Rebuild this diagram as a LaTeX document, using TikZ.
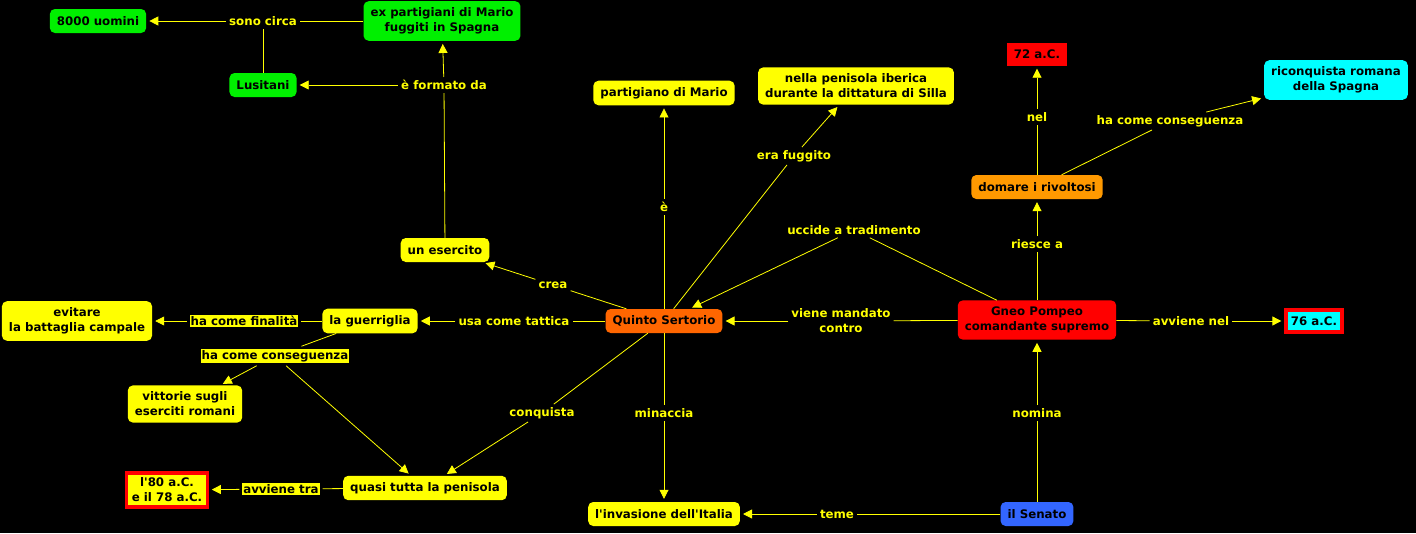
\documentclass[tikz,border=0pt]{standalone}
\usepackage{fontspec}
\setmainfont{DejaVu Sans}
\usetikzlibrary{arrows.meta}

\definecolor{cmyellow}{HTML}{FFFF00}
\definecolor{cmgreen}{HTML}{00F000}
\definecolor{cmorange}{HTML}{FF6600}
\definecolor{cmamber}{HTML}{FF9900}
\definecolor{cmred}{HTML}{FF0000}
\definecolor{cmcyan}{HTML}{00FFFF}
\definecolor{cmblue}{HTML}{3366FF}

\begin{document}
\begin{tikzpicture}[%
x=1pt, y=-1pt,
every node/.style = {font=\bfseries\fontsize{11.8}{15}\selectfont, align=center},
concept/.style = {rounded corners=5pt, inner xsep=7pt, inner ysep=6.5pt, minimum height=24pt, text=black},
yel/.style = {concept, fill=cmyellow},
grn/.style = {concept, fill=cmgreen},
org/.style = {concept, fill=cmorange},
amb/.style = {concept, fill=cmamber},
rd/.style = {concept, fill=cmred},
cyn/.style = {concept, fill=cmcyan},
blu/.style = {concept, fill=cmblue},
sqred/.style = {fill=cmred, text=black, inner xsep=7pt, inner ysep=5pt, minimum height=23pt},
datebox/.style = {draw=cmred, line width=3.2pt, text=black, inner xsep=5pt, inner ysep=5pt, minimum height=22pt},
link/.style = {text=cmyellow, inner sep=3pt},
linkbox/.style = {fill=cmyellow, text=black, inner sep=1pt, outer sep=3pt},
conn/.style = {draw=cmyellow, line width=0.8pt},
arr/.style = {conn, -{Triangle[length=9pt,width=9pt]}, shorten >=3pt}
]
\useasboundingbox (0,0) rectangle (1416,533);
\fill[black] (0,0) rectangle (1416,533);

% concepts
\node[grn] (uomini) at (98,21) {8000 uomini};
\node[grn] (expart) at (442,21) {ex partigiani di Mario\\fuggiti in Spagna};
\node[grn] (lusitani) at (263,85) {Lusitani};
\node[yel] (esercito) at (445,250) {un esercito};
\node[yel] (partigiano) at (664,93) {partigiano di Mario};
\node[yel] (iberica) at (856,86) {nella penisola iberica\\durante la dittatura di Silla};
\node[sqred] (a72) at (1037,54) {72 a.C.};
\node[cyn] (riconquista) at (1336,80) {riconquista romana\\della Spagna};
\node[amb] (domare) at (1037,187) {domare i rivoltosi};
\node[org] (sertorio) at (664,321) {Quinto Sertorio};
\node[yel] (guerriglia) at (370,321) {la guerriglia};
\node[yel] (evitare) at (77,321) {evitare\\la battaglia campale};
\node[yel] (vittorie) at (185,404) {vittorie sugli\\eserciti romani};
\node[yel] (penisola) at (425,488) {quasi tutta la penisola};
\node[datebox, fill=cmyellow] (a80) at (167,490) {l\textquotesingle 80 a.C.\\e il 78 a.C.};
\node[yel] (invasione) at (664,514) {l\textquotesingle invasione dell\textquotesingle Italia};
\node[blu] (senato) at (1037,514) {il Senato};
\node[rd] (pompeo) at (1037,320) {Gneo Pompeo\\comandante supremo};
\node[datebox, fill=cmcyan] (a76) at (1314,321) {76 a.C.};

% linking phrases
\node[link] (circa) at (263,21) {sono circa};
\node[link] (formato) at (444,85) {è formato da};
\node[link] (e) at (664,207) {è};
\node[link] (fuggito) at (794,156) {era fuggito};
\node[link] (uccide) at (854,230) {uccide a tradimento};
\node[link] (nel) at (1037,117) {nel};
\node[link] (consR) at (1170,121) {ha come conseguenza};
\node[link] (riesce) at (1037,244) {riesce a};
\node[link] (crea) at (553,285) {crea};
\node[link] (tattica) at (514,321) {usa come tattica};
\node[linkbox] (finalita) at (244,321) {ha come finalità};
\node[linkbox] (consL) at (275,356) {ha come conseguenza};
\node[link] (conquista) at (542,413) {conquista};
\node[linkbox] (tra) at (281,489) {avviene tra};
\node[link] (minaccia) at (664,413) {minaccia};
\node[link] (teme) at (837,514) {teme};
\node[link] (nomina) at (1037,413) {nomina};
\node[link] (mandato) at (841,321) {viene mandato\\contro};
\node[link] (avvnel) at (1191,321) {avviene nel};

% connectors
\draw[conn] (expart) -- (circa);
\draw[conn] (lusitani) -- (circa);
\draw[arr] (circa) -- (uomini);
\draw[conn] (esercito) -- (formato);
\draw[arr] (formato) -- (expart);
\draw[arr] (formato) -- (lusitani);
\draw[conn] (sertorio) -- (e);
\draw[arr] (e) -- (partigiano);
\draw[conn] (sertorio) -- (fuggito);
\draw[arr] (fuggito) -- (iberica);
\draw[conn] (pompeo) -- (uccide);
\draw[arr] (uccide) -- (sertorio);
\draw[conn] (sertorio) -- (crea);
\draw[arr] (crea) -- (esercito);
\draw[conn] (sertorio) -- (tattica);
\draw[arr] (tattica) -- (guerriglia);
\draw[conn] (sertorio) -- (conquista);
\draw[arr] (conquista) -- (penisola);
\draw[conn] (sertorio) -- (minaccia);
\draw[arr] (minaccia) -- (invasione);
\draw[conn] (guerriglia) -- (finalita);
\draw[arr] (finalita) -- (evitare);
\draw[conn] (guerriglia) -- (consL);
\draw[arr] (consL) -- (vittorie);
\draw[arr] (consL) -- (penisola);
\draw[conn] (penisola) -- (tra);
\draw[arr] (tra) -- (a80);
\draw[conn] (senato) -- (teme);
\draw[arr] (teme) -- (invasione);
\draw[conn] (senato) -- (nomina);
\draw[arr] (nomina) -- (pompeo);
\draw[conn] (pompeo) -- (mandato);
\draw[arr] (mandato) -- (sertorio);
\draw[conn] (pompeo) -- (riesce);
\draw[arr] (riesce) -- (domare);
\draw[conn] (pompeo) -- (avvnel);
\draw[arr] (avvnel) -- (a76);
\draw[conn] (domare) -- (nel);
\draw[arr] (nel) -- (a72);
\draw[conn] (domare) -- (consR);
\draw[arr] (consR) -- (riconquista);
\end{tikzpicture}
\end{document}
